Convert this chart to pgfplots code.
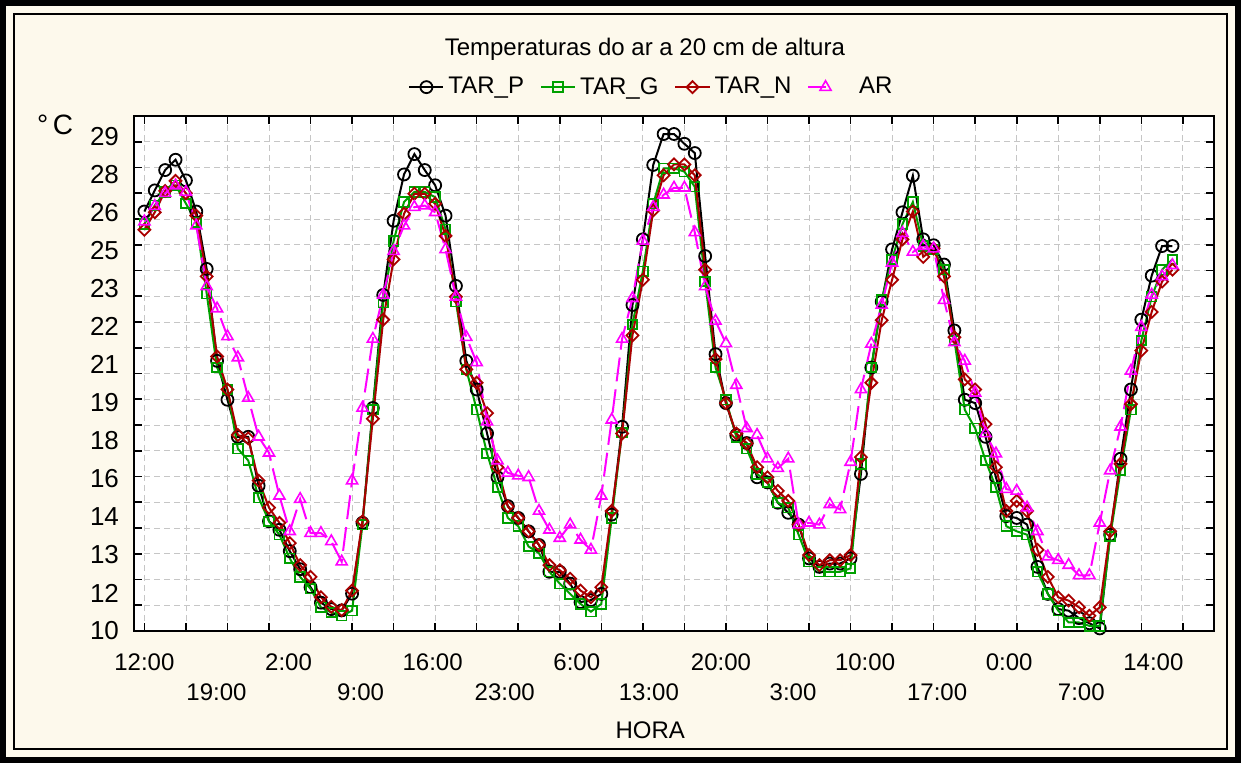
\documentclass[border=0pt]{standalone}
\usepackage{pgfplots}
\pgfplotsset{compat=1.18}
\usepackage{pgfplotstable}
\usepackage{fontspec}
\setmainfont{Liberation Sans}

\definecolor{bgcream}{RGB}{253,249,236}
\definecolor{tgreen}{RGB}{0,160,0}
\definecolor{tred}{RGB}{170,0,0}
\definecolor{tmag}{RGB}{255,0,255}

% h = hour index (0 = 12:00 of day 1), P/G/N = TAR_P/TAR_G/TAR_N, A = AR
\pgfplotstableread{
h P G N A
0 26.29 25.80 25.58 25.90
1 27.11 26.53 26.26 26.50
2 27.90 27.05 27.09 27.00
3 28.30 27.31 27.48 27.30
4 27.50 26.60 27.00 27.05
5 26.29 25.87 26.13 25.74
6 24.06 23.10 23.77 23.38
7 20.49 20.23 20.66 22.52
8 18.98 19.38 19.38 21.44
9 17.54 17.08 17.61 20.62
10 17.54 16.62 17.48 19.05
11 15.64 15.18 15.84 17.54
12 14.26 14.26 14.79 16.92
13 13.93 13.74 14.20 15.25
14 13.10 12.82 13.41 13.87
15 12.40 12.10 12.56 15.12
16 11.70 11.64 12.10 13.80
17 11.10 10.92 11.31 13.80
18 10.85 10.72 10.94 13.48
19 10.80 10.59 10.81 12.69
20 11.45 10.79 11.57 15.84
21 14.20 14.13 14.26 18.66
22 18.66 18.59 18.24 21.34
23 23.05 22.75 22.09 23.05
24 25.93 25.15 24.43 24.75
25 27.73 26.66 26.20 25.74
26 28.52 27.05 26.98 26.46
27 27.90 27.05 26.98 26.52
28 27.31 26.85 26.59 26.26
29 26.13 25.60 25.34 24.82
30 23.40 22.79 22.98 22.98
31 20.49 20.16 20.16 21.41
32 19.38 18.59 19.64 20.43
33 17.67 16.89 18.46 18.13
34 15.97 15.57 16.36 16.62
35 14.85 14.39 14.83 16.14
36 14.39 14.07 14.39 16.03
37 13.87 13.28 13.87 15.97
38 13.34 13.02 13.34 14.66
39 12.30 12.30 12.56 13.93
40 12.30 11.84 12.36 13.61
41 11.84 11.44 12.03 14.13
42 11.12 11.05 11.57 13.54
43 11.20 10.75 11.31 13.15
44 11.44 11.05 11.70 15.25
45 14.52 14.39 14.66 18.20
46 17.93 17.70 17.67 21.34
47 22.66 21.90 21.48 22.92
48 25.21 23.97 23.64 25.15
49 28.10 26.59 26.33 26.46
50 29.30 27.97 27.70 26.94
51 29.30 27.97 28.12 27.21
52 28.92 27.84 28.12 27.21
53 28.56 27.25 27.70 25.48
54 24.56 23.57 24.03 23.38
55 20.75 20.23 20.56 22.04
56 18.85 18.98 18.85 21.17
57 17.61 17.54 17.67 19.55
58 17.30 17.08 17.28 17.87
59 15.97 16.10 16.36 17.61
60 15.77 15.77 15.97 16.69
61 14.98 14.98 15.44 16.32
62 14.59 14.79 15.05 16.69
63 14.13 13.74 14.13 14.13
64 12.82 12.69 12.95 14.20
65 12.49 12.30 12.56 14.13
66 12.62 12.30 12.75 14.92
67 12.62 12.30 12.75 14.72
68 12.82 12.43 12.95 16.56
69 16.10 16.49 16.75 19.38
70 20.23 20.23 19.64 21.15
71 22.79 22.85 22.07 22.66
72 24.82 24.43 23.64 24.30
73 26.26 25.80 25.21 25.45
74 27.68 26.66 26.29 24.72
75 25.21 24.95 24.53 24.95
76 24.98 24.82 24.85 24.85
77 24.23 24.03 23.77 22.85
78 21.67 21.28 21.41 21.21
79 18.98 18.59 19.77 20.49
80 18.85 17.87 19.38 19.25
81 17.54 16.62 18.03 17.67
82 15.97 15.57 16.36 16.89
83 14.46 14.07 14.66 15.51
84 14.39 13.87 15.05 15.44
85 14.13 13.74 14.66 14.79
86 12.49 12.30 13.15 13.87
87 11.44 11.44 12.10 12.89
88 10.85 10.79 11.31 12.75
89 10.79 10.33 11.18 12.56
90 10.50 10.33 10.92 12.16
91 10.30 10.20 10.59 12.16
92 10.10 10.20 10.92 14.20
93 13.74 13.67 13.87 16.23
94 16.69 16.23 16.49 17.93
95 19.38 18.59 18.81 20.10
96 22.09 21.28 20.89 21.80
97 23.80 22.98 22.39 23.05
98 24.95 24.03 23.57 23.77
99 24.95 24.43 24.03 24.20
}\temps

\newcommand{\rA}[1]{\rule{0pt}{9pt}#1}
\newcommand{\rB}[1]{\rule{0pt}{24pt}#1}

\begin{document}
\begin{tikzpicture}
\useasboundingbox (0,0) rectangle (620.5pt,381.5pt);
\fill[bgcream] (0,0) rectangle (620.5pt,381.5pt);
\draw[line width=3pt] (1.5pt,1.5pt) rectangle (619pt,380pt);
\draw[line width=1pt] (7pt,7pt) rectangle (613.5pt,374.5pt);
\begin{axis}[
    at={(67pt,66pt)}, anchor=south west,
    width=540pt, height=257.5pt, scale only axis,
    axis background/.style={fill=white},
    axis line style={line width=1pt},
    xmin=-1, xmax=103, ymin=10, ymax=30,
    clip=false,
    xtick={0,4,...,100}, xticklabels={},
    ytick={10,11,...,30}, yticklabels={},
    grid=major,
    major grid style={densely dashed, gray!45, line width=0.4pt},
    major tick length=4pt,
    tick style={black, line width=0.8pt},
    extra x ticks={0,6.94,13.88,20.82,27.76,34.7,41.64,48.58,55.52,62.46,69.4,76.34,83.28,90.22,97.16},
    extra x tick labels={\rA{12:00},\rB{19:00},\rA{2:00},\rB{9:00},\rA{16:00},\rB{23:00},\rA{6:00},\rB{13:00},\rA{20:00},\rB{3:00},\rA{10:00},\rB{17:00},\rA{0:00},\rB{7:00},\rA{14:00}},
    extra x tick style={grid=none, major tick length=0pt,
        tick label style={font={\fontsize{12}{14}\selectfont}, anchor=north, yshift=-7pt}},
    extra y ticks={10,11.478,12.956,14.434,15.912,17.39,18.868,20.346,21.824,23.302,24.78,26.258,27.736,29.214},
    extra y tick labels={10,12,13,14,16,18,19,21,22,23,25,26,28,29},
    extra y tick style={grid=none, major tick length=0pt,
        tick label style={font={\fontsize{13}{15}\selectfont}, xshift=-4pt}},
    title={Temperaturas do ar a 20 cm de altura},
    title style={at={(axis description cs:0.473,1.134)}, anchor=center, yshift=-7pt, font={\fontsize{12}{14}\selectfont}},
    xlabel={HORA},
    xlabel style={at={(axis description cs:0.478,-0.192)}, anchor=center, font={\fontsize{12}{14}\selectfont}},
    ylabel={°\,C},
    ylabel style={rotate=-90, at={(axis description cs:-0.073,0.982)}, anchor=center, font={\fontsize{14}{16}\selectfont}},
    legend columns=4,
    legend style={at={(axis description cs:0.48,1.056)}, anchor=center, draw=none, fill=none,
        font={\fontsize{12}{14}\selectfont},
        /tikz/every even column/.append style={column sep=6pt}},
]
\addplot[black, line width=1pt, mark=o, mark size=3pt, mark options={solid, line width=0.9pt, fill=white}]
    table[x=h, y=P] {\temps};
\addlegendentry{TAR\_P}
\addplot[tgreen, line width=1pt, mark=square, mark size=2.4pt, mark options={solid, line width=0.9pt, fill=white}]
    table[x=h, y=G] {\temps};
\addlegendentry{TAR\_G}
\addplot[tred, line width=1pt, mark=square, mark size=2.1pt, mark options={solid, rotate=45, line width=0.9pt, fill=white}]
    table[x=h, y=N] {\temps};
\addlegendentry{TAR\_N}
\addplot[tmag, line width=1pt, dash pattern=on 12pt off 4pt, mark=triangle, mark size=3.2pt, mark options={solid, line width=0.8pt, fill=white},
    legend image code/.code={
        \draw[solid] (0cm,0cm) -- (0.3cm,0cm);
        \draw[solid, mark=triangle, mark size=3.2pt, mark options={solid, line width=0.8pt, fill=white}] plot coordinates {(0.3cm,0cm)};
    }]
    table[x=h, y=A] {\temps};
\addlegendentry{\quad AR}
\end{axis}
\end{tikzpicture}
\end{document}
